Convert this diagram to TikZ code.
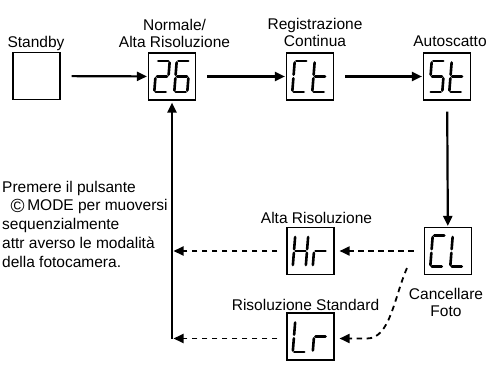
\documentclass[tikz,border=0pt]{standalone}
\usepackage{fontspec}
\setmainfont{Liberation Sans}
\usetikzlibrary{arrows.meta,positioning}
\tikzset{
  modebox/.style={draw, line width=1.1pt, minimum width=47pt, minimum height=47pt, inner sep=0pt},
  caption/.style={font=\fontsize{15.5}{17}\selectfont, inner sep=0pt, align=center},
  hint/.style={font=\fontsize{15.5}{18.7}\selectfont, inner sep=0pt, align=left},
  flow/.style={line width=2.2pt, -{Triangle[length=10pt,width=9pt]}, shorten <=11pt, shorten >=1pt},
  back/.style={line width=1.8pt, dash pattern=on 5.5pt off 4.5pt, -{Triangle[length=10pt,width=9pt]}},
  segline/.style={line width=2.6pt, line cap=round},
  seg a/.style={insert path={(-5,-15.5)--(5,-15.5)}},
  seg b/.style={insert path={(6.5,-14)--(6.5,-1.8)}},
  seg c/.style={insert path={(6.5,1.8)--(6.5,14)}},
  seg d/.style={insert path={(-5,15.5)--(5,15.5)}},
  seg e/.style={insert path={(-6.5,1.8)--(-6.5,14)}},
  seg f/.style={insert path={(-6.5,-14)--(-6.5,-1.8)}},
  seg g/.style={insert path={(-5,0)--(5,0)}}
}
% two seven-segment characters inside a mode box
\newcommand{\lcd}[3]{
  \begin{scope}[shift={(#1.center)}]
    \begin{scope}[xshift=-10pt, xslant=0.08]
      \foreach \s in {#2} {\edef\segdo{\noexpand\draw[segline, seg \s];}\segdo}
    \end{scope}
    \begin{scope}[xshift=10pt, xslant=0.08]
      \foreach \s in {#3} {\edef\segdo{\noexpand\draw[segline, seg \s];}\segdo}
    \end{scope}
  \end{scope}
}

\begin{document}
\begin{tikzpicture}[x=1pt, y=-1pt]
    \useasboundingbox (0,0) rectangle (487,380);
    % mode boxes
    \node[modebox] (standby) at (36.5,76) {};
    \node[modebox] (normale) at (172,76.5) {};
    \node[modebox] (continua) at (310,76.5) {};
    \node[modebox] (autoscatto) at (447,76.5) {};
    \node[modebox] (cancella) at (448,251) {};
    \node[modebox] (altaris) at (310.5,251) {};
    \node[modebox] (standard) at (310.5,336.5) {};
    \lcd{normale}{a,b,g,e,d}{a,f,g,e,d,c}
    \lcd{continua}{a,f,e,d}{f,e,g,d}
    \lcd{autoscatto}{a,f,g,c,d}{f,e,g,d}
    \lcd{cancella}{a,f,e,d}{f,e,d}
    \lcd{altaris}{f,e,b,c,g}{e,g}
    \lcd{standard}{f,e,d}{e,g}
    % captions (base = last line)
    \node[caption, anchor=base] (standbytxt) at (36,47) {Standby};
    \node[caption, anchor=base] (normaletxt) at (174.5,47) {Normale/\\Alta Risoluzione};
    \node[caption, anchor=base] (continuatxt) at (315,46) {Registrazione\\Continua};
    \node[caption, anchor=base] (autoscattotxt) at (450,46) {Autoscatto};
    \node[caption, anchor=base] (altaristxt) at (316.5,223) {Alta Risoluzione};
    \node[caption, anchor=base] (standardtxt) at (305.5,310) {Risoluzione Standard};
    \node[caption, anchor=base] (cancellatxt) at (446,316) {Cancellare\\Foto};
    \node[hint, anchor=base west] (hinttxt) at (2,267) {Premere il pulsante\\\hspace*{0.55em}\raisebox{-1.2pt}{\fontsize{19}{19}\selectfont ©}\,MODE per muoversi\\sequenzialmente\\attr averso le modalità\\della fotocamera.};
    % forward steps
    \draw[flow] (standby) -- (normale);
    \draw[flow] (normale) -- (continua);
    \draw[flow] (continua) -- (autoscatto);
    \draw[flow] (autoscatto) -- (cancella);
    % way back
    \coordinate (corner) at (172,338.5);
    \draw[line width=2.2pt, -{Triangle[length=10pt,width=9pt]}, shorten >=2pt] (corner) -- (normale.south);
    \draw[back, shorten <=10pt, shorten >=5pt] (cancella.west) -- (altaris.east);
    \draw[back, shorten <=9pt, shorten >=1.5pt] (altaris.west) -- (altaris.west -| corner);
    \draw[back, shorten >=5pt] ([shift={(-17,-7)}]cancella.south west) .. controls (394,298) and (390,338.5) .. (367,338.5) -- (corner -| standard.east);
    \draw[back, shorten <=9pt, shorten >=1.5pt] (corner -| standard.west) -- (corner);
\end{tikzpicture}
\end{document}
